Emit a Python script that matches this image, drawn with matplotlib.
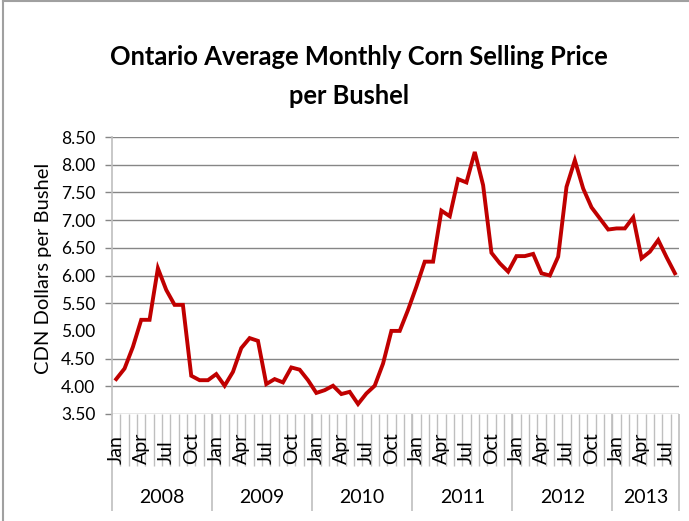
import numpy as np
import matplotlib
matplotlib.use("Agg")
import matplotlib.pyplot as plt

# monthly prices, Jan 2008 .. Aug 2013
years = ["2008", "2009", "2010", "2011", "2012", "2013"]
months_in_year = [12, 12, 12, 12, 12, 8]
month_names = ["Jan", "Feb", "Mar", "Apr", "May", "Jun",
               "Jul", "Aug", "Sep", "Oct", "Nov", "Dec"]
price = [4.13, 4.32, 4.71, 5.20, 5.20, 6.13, 5.74, 5.47, 5.47, 4.19, 4.11, 4.11,
         4.22, 4.01, 4.26, 4.69, 4.87, 4.82, 4.04, 4.13, 4.07, 4.34, 4.30, 4.11,
         3.88, 3.93, 4.01, 3.86, 3.90, 3.68, 3.87, 4.01, 4.41, 5.00, 5.00, 5.38,
         5.80, 6.25, 6.25, 7.17, 7.07, 7.74, 7.68, 8.23, 7.63, 6.41, 6.22, 6.07,
         6.35, 6.35, 6.39, 6.04, 6.00, 6.34, 7.60, 8.08, 7.57, 7.23, 7.03, 6.83,
         6.85, 6.85, 7.05, 6.31, 6.43, 6.64, 6.33, 6.04]
yticks = [3.5, 4.0, 4.5, 5.0, 5.5, 6.0, 6.5, 7.0, 7.5, 8.0, 8.5]

plt.rcParams['font.family'] = ['Lato', 'DejaVu Sans']

fig = plt.figure(figsize=(6.89, 5.21), dpi=100)
ax = fig.add_axes([0.1626, 0.2054, 0.823, 0.5316])

x = np.arange(len(price))
ax.plot(x, price, color='#C00000', lw=2.8, solid_joinstyle='miter')

ax.set_xlim(-0.5, len(price) - 0.5)
ax.set_ylim(3.5, 8.5)
ax.set_yticks(yticks)
ax.set_yticklabels([f"{v:.2f}" for v in yticks], fontsize=12.5)
ax.tick_params(axis='y', length=5, width=1.0, color='#868686', pad=7)
ax.set_xticks([])
ax.yaxis.grid(True, color='#868686', lw=1.0)
ax.set_axisbelow(True)
# the 5.00 line is not drawn in the source chart
ax.get_ygridlines()[3].set_visible(False)
ax.yaxis.get_major_ticks()[3].tick1line.set_visible(False)
for s in ['top', 'right', 'bottom']:
    ax.spines[s].set_visible(False)
ax.spines['left'].set_color('#BFBFBF')
ax.spines['left'].set_linewidth(1.2)

ax.set_ylabel("CDN Dollars per Bushel", fontsize=14.5)
ax.yaxis.set_label_coords((43 - 112) / 567, (414 - 268) / 277)
ax.yaxis.label.set_verticalalignment('center')

# category axis: month ticks, month labels, year groups
trans = ax.get_xaxis_transform()
ax.vlines(np.arange(1, len(price)) - 0.5, -0.188, 0, transform=trans,
          color='#BFBFBF', lw=1.0, clip_on=False)
for i in range(0, len(price), 3):
    ax.text(i, -0.18, month_names[i % 12], transform=trans, rotation=90,
            ha='center', va='bottom', fontsize=14)
start = 0
edges = [0]
for yr, n in zip(years, months_in_year):
    ax.text(start + n / 2 - 0.5, -0.30, yr, transform=trans,
            ha='center', va='center', fontsize=14)
    start += n
    edges.append(start)
ax.vlines(np.array(edges) - 0.5, -0.35, 0, transform=trans,
          color='#BFBFBF', lw=1.2, clip_on=False)

fig.text(0.521, 0.875, "Ontario Average Monthly Corn Selling Price",
         ha='center', va='baseline', fontsize=18.4, fontweight='bold')
fig.text(0.506, 0.800, "per Bushel", ha='center', va='baseline',
         fontsize=18.4, fontweight='bold')

# chart frame (left and top edges)
fig.add_artist(plt.Line2D([0.004, 0.004], [0, 0.998], color='#A0A0A0', lw=1.5))
fig.add_artist(plt.Line2D([0.004, 1], [0.998, 0.998], color='#A0A0A0', lw=1.5))

fig.savefig("out.png", dpi=100)
